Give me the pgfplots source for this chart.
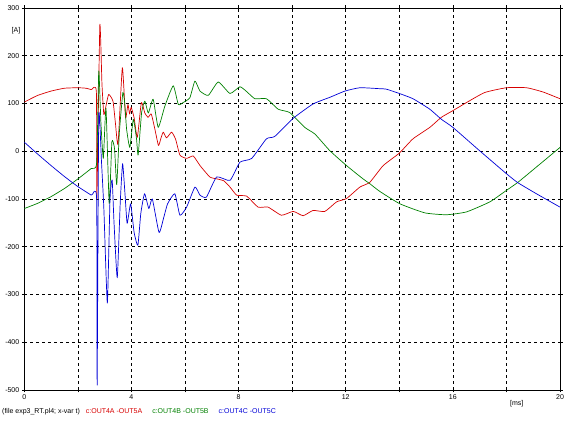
\documentclass[border=0pt]{standalone}
\usepackage{pgfplots}
\pgfplotsset{compat=1.18}
\usepackage{fontspec}
\setmainfont{Liberation Sans}
\definecolor{cr}{RGB}{215,0,0}
\definecolor{cg}{RGB}{0,128,0}
\definecolor{cb}{RGB}{0,0,215}
\begin{document}
\begin{tikzpicture}
\path[use as bounding box] (0pt,0pt) rectangle (571pt,422pt);
\begin{axis}[
  at={(24.3pt,32pt)}, anchor=south west,
  scale only axis, width=535.7pt, height=382pt,
  xmin=0, xmax=20, ymin=-500, ymax=300,
  xtick={0,2,...,20}, xticklabels={0,,4,,8,,12,,16,,20},
  ytick={-500,-400,...,300},
  yticklabels={-500,-400,-300,-200,-100,0,100,200,300},
  grid=major,
  major grid style={black, dash pattern=on 3pt off 3pt, line width=0.6pt},
  axis line style={black, line width=0.8pt},
  tick style={black, line width=0.6pt},
  tick align=outside, major tick length=2.5pt,
  ticklabel style={font=\fontsize{7}{8}\selectfont},
  xticklabel style={yshift=1pt},
  yticklabel style={xshift=1pt},
  every axis plot/.append style={line width=0.7pt, line join=round, smooth, tension=0.3},
]
% c:OUT4A-OUT5A
\addplot[cr] coordinates {
(0,103)(0.5,117)(1,126)(1.5,132)(2,133)(2.3,132)(2.5,129)(2.69,125)
(2.71,-100)(2.82,264)(2.90,140)(2.97,77)(3.05,95)(3.15,119)(3.31,105)
(3.40,60)(3.50,15)(3.66,175)(3.78,71)(3.87,98)(3.93,78)(3.99,92)(4.10,70)
(4.22,29)(4.37,102)(4.50,80)(4.62,71)(4.74,78)(4.88,45)(5.01,12)(5.11,29)
(5.19,40)(5.31,28)(5.5,40)(5.65,25)(5.81,-8)(6.06,-15)(6.31,-10)(6.56,-30)
(6.93,-54)(7.2,-58)(7.45,-62)(7.68,-75)(7.93,-92)(8.30,-94)(8.73,-117)(9.1,-117)
(9.6,-134)(10.04,-126)(10.41,-135)(10.78,-124)(11.22,-126)(11.66,-106)
(12.03,-99)(12.53,-75)(12.9,-65)(13.40,-30)(14,-4)(14.51,26)(15.14,50)
(15.57,71)(16,85)(16.51,102)(17.19,123)(18,133)(18.75,133)(19.37,124)(20,110)
};
% c:OUT4B-OUT5B
\addplot[cg] coordinates {
(0,-120)(0.5,-109)(1,-95)(1.5,-78)(2,-58)(2.5,-36)(2.70,-25)
(2.78,168)(2.86,60)(2.95,-15)(3.05,90)(3.17,-110)(3.27,20)(3.37,5)
(3.45,-70)(3.55,40)(3.68,123)(3.75,100)(3.82,46)(3.94,8)(4.07,67)(4.19,26)
(4.25,-8)(4.38,81)(4.5,105)(4.63,80)(4.81,109)(5.0,50)(5.25,95)(5.56,137)
(5.75,98)(5.93,102)(6.18,112)(6.37,147)(6.56,126)(6.87,117)(7.24,145)
(7.68,121)(8.05,135)(8.3,125)(8.61,110)(9.04,110)(9.48,88)(9.91,81)
(10.47,50)(10.85,36)(11.41,1)(12.03,-30)(12.65,-58)(12.9,-68)(13.27,-84)
(14.02,-110)(14.95,-129)(15.76,-133)(16.51,-127)(17.38,-106)(18,-82)
(18.43,-65)(19.12,-33)(20,8)
};
% c:OUT4C-OUT5C
\addplot[cb] coordinates {
(0,19)(0.5,-6)(1,-30)(1.5,-53)(2,-74)(2.5,-92)(2.70,-99)
(2.72,-490)(2.78,74)(2.88,-20)(2.97,-120)(3.10,-318)(3.2,-100)(3.28,-60)
(3.35,-150)(3.47,-265)(3.58,-110)(3.67,-26)(3.76,-90)(3.84,-151)(3.97,-110)
(4.10,-170)(4.24,-197)(4.35,-130)(4.49,-89)(4.65,-120)(4.78,-100)(5.03,-170)
(5.2,-140)(5.35,-110)(5.62,-89)(5.81,-134)(6.06,-117)(6.37,-75)(6.56,-92)
(6.80,-96)(7.18,-54)(7.68,-61)(8.05,-23)(8.49,-15)(9.04,26)(9.35,31)
(10.04,69)(10.78,99)(11.41,113)(11.97,126)(12.53,133)(13.27,131)(13.52,130)
(14,121)(14.51,110)(15.14,88)(15.57,67)(16,50)(17,1)(18,-47)(18.43,-66)
(19.12,-89)(20,-117)
};
\end{axis}
\node[font=\fontsize{7}{8}\selectfont] at (16pt,391pt) {[A]};
\node[font=\fontsize{7}{8}\selectfont] at (516.7pt,18pt) {[ms]};
\node[anchor=west, inner sep=0pt, font=\fontsize{7}{8}\selectfont] at (2pt,10pt)
 {(file exp3\_RT.pl4; x-var t)\hspace{6pt}\textcolor{cr}{c:OUT4A -OUT5A}\hspace{10pt}\textcolor{cg}{c:OUT4B -OUT5B}\hspace{10pt}\textcolor{cb}{c:OUT4C -OUT5C}};
\end{tikzpicture}
\end{document}
